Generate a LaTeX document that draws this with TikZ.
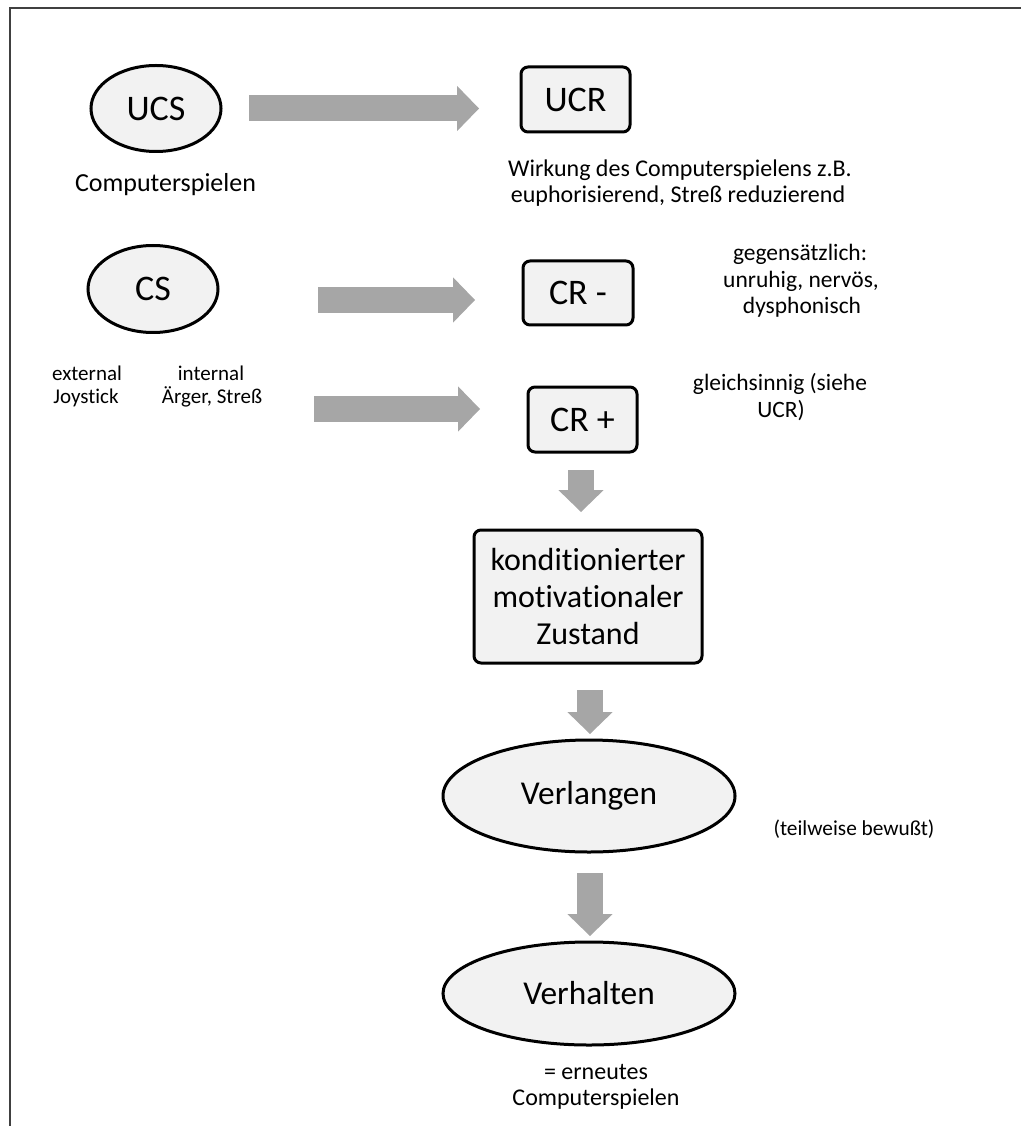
\documentclass[tikz,border=0pt]{standalone}
\usepackage{fontspec}
\setmainfont{Carlito}[Ligatures=NoCommon]
\usetikzlibrary{shapes.geometric,arrows.meta}
\definecolor{nodefill}{HTML}{F2F2F2}
\definecolor{arrowgray}{HTML}{A6A6A6}
\definecolor{framegray}{HTML}{404040}
\newdimen\pxu \pxu=0.75pt

\begin{document}
\begin{tikzpicture}[x=0.75pt,y=-0.75pt,
  oval/.style={ellipse,draw=black,line width=3*\pxu,fill=nodefill,inner sep=0pt},
  rbox/.style={rectangle,rounded corners=7*\pxu,draw=black,line width=3*\pxu,fill=nodefill,inner sep=0pt},
  bigtxt/.style={font=\fontsize{27pt}{32pt}\selectfont},
  lbl/.style={inner sep=0pt,anchor=base},
  fatarrow/.style={draw=arrowgray,line width=19.5pt,line cap=butt,
    -{Triangle[length=16.5pt,width=34pt,line width=0pt]}},
 ]
\useasboundingbox (0,0) rectangle (1021,1126);

% frame
\draw[framegray,line width=2*\pxu] (10,1126) -- (10,8) -- (1021,8);

% nodes
\node[oval,bigtxt,minimum width=130*\pxu,minimum height=86*\pxu] (ucs) at (156,108.5) {UCS};
\node[rbox,bigtxt,minimum width=109*\pxu,minimum height=65*\pxu] (ucr) at (575.5,99.5) {UCR};
\node[oval,bigtxt,minimum width=130*\pxu,minimum height=87*\pxu] (cs) at (153,289) {CS};
\node[rbox,bigtxt,minimum width=110*\pxu,minimum height=64*\pxu] (crm) at (578,293) {CR -};
\node[rbox,bigtxt,minimum width=109*\pxu,minimum height=65*\pxu] (crp) at (582.5,419.5) {CR +};
\node[rbox,align=center,font=\fontsize{24pt}{28pt}\selectfont,
      minimum width=228*\pxu,minimum height=133*\pxu] (kmz) at (588,596.5)
      {konditionierter\\motivationaler\\Zustand};
\node[oval,font=\fontsize{25pt}{30pt}\selectfont,minimum width=292*\pxu,minimum height=112*\pxu] (verl) at (589,796) {Verlangen};
\node[oval,font=\fontsize{25pt}{30pt}\selectfont,minimum width=292*\pxu,minimum height=103*\pxu] (verh) at (589,993.5) {Verhalten};

% labels
\begin{scope}[font=\fontsize{19.5pt}{23pt}\selectfont]
\node[lbl] (l1) at (165.5,192) {Computerspielen};
\end{scope}
\begin{scope}[font=\fontsize{18pt}{22pt}\selectfont]
\node[lbl] (w1) at (680,177) {Wirkung des Computerspielens z.B.};
\node[lbl] (w2) at (678,203) {euphorisierend, Streß reduzierend};
\end{scope}
\begin{scope}[font=\fontsize{17.6pt}{22pt}\selectfont]
\node[lbl] (g1) at (800,261) {gegensätzlich:};
\node[lbl] (g2) at (801,288) {unruhig, nervös,};
\node[lbl] (g3) at (802,314) {dysphonisch};
\node[lbl] (s1) at (780,390) {gleichsinnig (siehe};
\node[lbl] (s2) at (781,417) {UCR)};
\end{scope}
\begin{scope}[font=\fontsize{15.75pt}{20pt}\selectfont]
\node[lbl] (e1) at (87,380) {external};
\node[lbl] (e2) at (86,403) {Joystick};
\node[lbl] (i1) at (211,380) {internal};
\node[lbl] (i2) at (212,403) {Ärger, Streß};
\end{scope}
\begin{scope}[font=\fontsize{16pt}{20pt}\selectfont]
\node[lbl] (t1) at (854,835) {(teilweise bewußt)};
\end{scope}
\begin{scope}[font=\fontsize{18pt}{22pt}\selectfont]
\node[lbl] (b1) at (596,1079) {= erneutes};
\node[lbl] (b2) at (596,1105) {Computerspielen};
\end{scope}

% arrow ends
\coordinate (a1s) at (249,108.5); \coordinate (a1e) at (479,108.5);
\coordinate (a2s) at (318,300);   \coordinate (a2e) at (475,300);
\coordinate (a3s) at (314,409);   \coordinate (a3e) at (480,409);
\coordinate (a4s) at (581,470);   \coordinate (a4e) at (581,512);
\coordinate (a5s) at (590,690);   \coordinate (a5e) at (590,734);
\coordinate (a6s) at (590,873);   \coordinate (a6e) at (590,936);

% block arrows
\draw[fatarrow] (a1s) -- (a1e);
\draw[fatarrow] (a2s) -- (a2e);
\draw[fatarrow] (a3s) -- (a3e);
\draw[fatarrow] (a4s) -- (a4e);
\draw[fatarrow] (a5s) -- (a5e);
\draw[fatarrow] (a6s) -- (a6e);
\end{tikzpicture}
\end{document}
